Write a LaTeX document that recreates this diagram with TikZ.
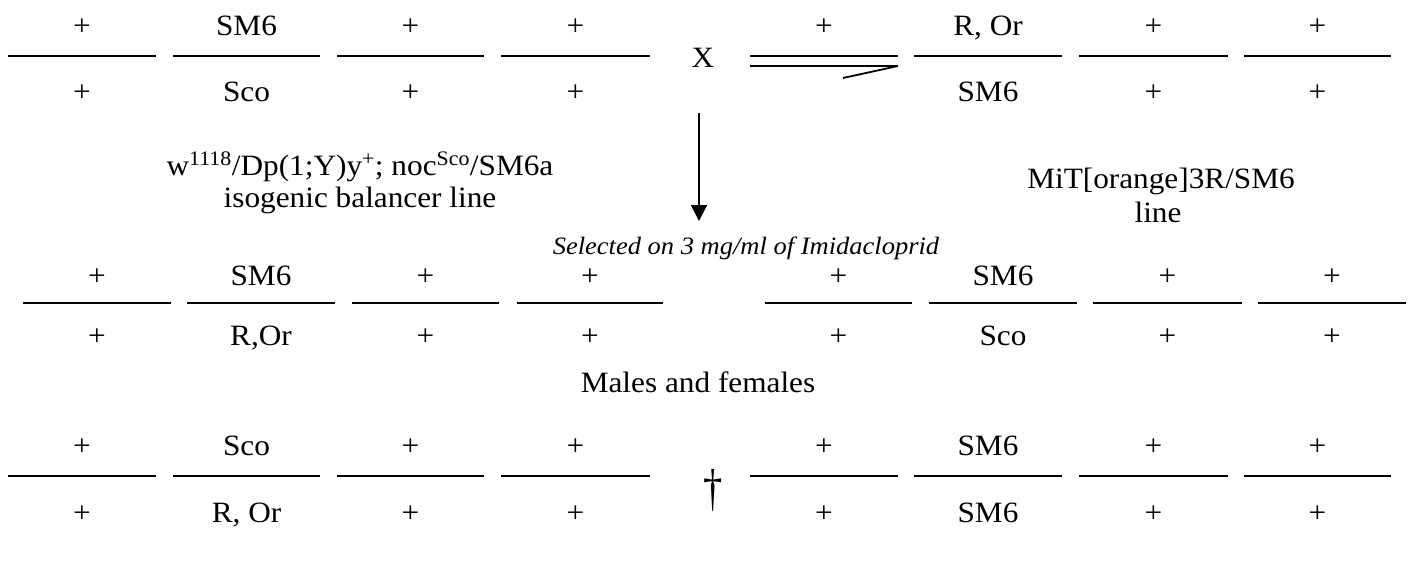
\documentclass[tikz,border=0pt]{standalone}
\usepackage{fontspec}
\setmainfont{Liberation Serif}[FakeStretch=1.06]
\usetikzlibrary{arrows.meta}

% distance of the allele baselines above and below a bar
\def\upoff{21}
\def\downoff{43}

% one chromosome pair: bar from x1 to x2 at height y, allele above and below
\newcommand\chrpair[6]{%
  \coordinate (#1l) at (#2,#4);
  \coordinate (#1r) at (#3,#4);
  \draw[chrbar] (#1l) -- (#1r);
  \node[lab] (#1t) at ({(#2+#3)/2},#4-\upoff) {#5};
  \node[lab] (#1b) at ({(#2+#3)/2},#4+\downoff) {#6};
}

\begin{document}
\begin{tikzpicture}[x=1pt,y=-1pt,
  chrbar/.style={line width=2pt},
  lab/.style={anchor=base,inner sep=0pt,font=\fontsize{29.5}{34}\selectfont},
  note/.style={anchor=base,inner sep=0pt,font=\fontsize{29.5}{34}\selectfont},
  sel/.style={anchor=base,inner sep=0pt,font=\fontsize{25}{30}\selectfont\itshape}]
\useasboundingbox (0,0) rectangle (1413,576);

% ---- parental cross ----
\def\downoff{45}
\chrpair{pa}{8}{156}{56}{+}{+}
\chrpair{pb}{173}{320}{56}{SM6}{Sco}
\chrpair{pc}{337}{484}{56}{+}{+}
\chrpair{pd}{501}{650}{56}{+}{+}

\node[note] (cross) at (703,67) {X};

% X / Y chromosome pair of the male
\coordinate (xl) at (750,56);
\coordinate (xr) at (898,56);
\coordinate (yl) at (750,66);
\coordinate (yr) at (898,66);
\coordinate (yh) at (843,78);
\draw[line width=1.8pt] (xl) -- (xr);
\draw[line width=1.8pt] (yl) -- (yr);
\draw[line width=1.8pt] (yr) -- (yh);
\node[lab] (qt) at (824,35) {+};

\chrpair{qb}{914}{1062}{56}{R, Or}{SM6}
\chrpair{qc}{1079}{1228}{56}{+}{+}
\chrpair{qd}{1244}{1391}{56}{+}{+}

% line names
\node[note] (lineA) at (360,175) {w\textsuperscript{1118}/Dp(1;Y)y\textsuperscript{+}; noc\textsuperscript{Sco}/SM6a};
\node[note] (lineB) at (360,207) {isogenic balancer line};
\node[note] (lineC) at (1161,188) {MiT[orange]3R/SM6};
\node[note] (lineD) at (1158,222) {line};

% selection step
\coordinate (arS) at (699,113);
\coordinate (arE) at (699,221);
\draw[line width=2pt,-{Triangle[length=16pt,width=16pt]}] (arS) -- (arE);
\node[sel] (select) at (746,254) {Selected on 3 mg/ml of Imidacloprid};

% ---- selected progeny ----
\def\upoff{18}
\def\downoff{42}
\chrpair{ra}{23}{171}{303}{+}{+}
\chrpair{rb}{187}{335}{303}{SM6}{R,Or}
\chrpair{rc}{352}{499}{303}{+}{+}
\chrpair{rd}{517}{663}{303}{+}{+}

\chrpair{sa}{765}{912}{303}{+}{+}
\chrpair{sb}{929}{1077}{303}{SM6}{Sco}
\chrpair{sc}{1093}{1242}{303}{+}{+}
\chrpair{sd}{1258}{1406}{303}{+}{+}

\node[note] (mf) at (698,392) {Males and females};

% ---- next generation ----
\def\upoff{21}
\def\downoff{46}
\chrpair{ta}{8}{156}{476}{+}{+}
\chrpair{tb}{173}{320}{476}{Sco}{R, Or}
\chrpair{tc}{337}{484}{476}{+}{+}
\chrpair{td}{501}{650}{476}{+}{+}

\node[anchor=center,inner sep=0pt,font=\fontsize{52}{54}\selectfont] (dag) at (713,490) {\scalebox{0.7}[1]{†}};

\chrpair{ua}{750}{898}{476}{+}{+}
\chrpair{ub}{914}{1062}{476}{SM6}{SM6}
\chrpair{uc}{1079}{1228}{476}{+}{+}
\chrpair{ud}{1244}{1391}{476}{+}{+}
\end{tikzpicture}
\end{document}
